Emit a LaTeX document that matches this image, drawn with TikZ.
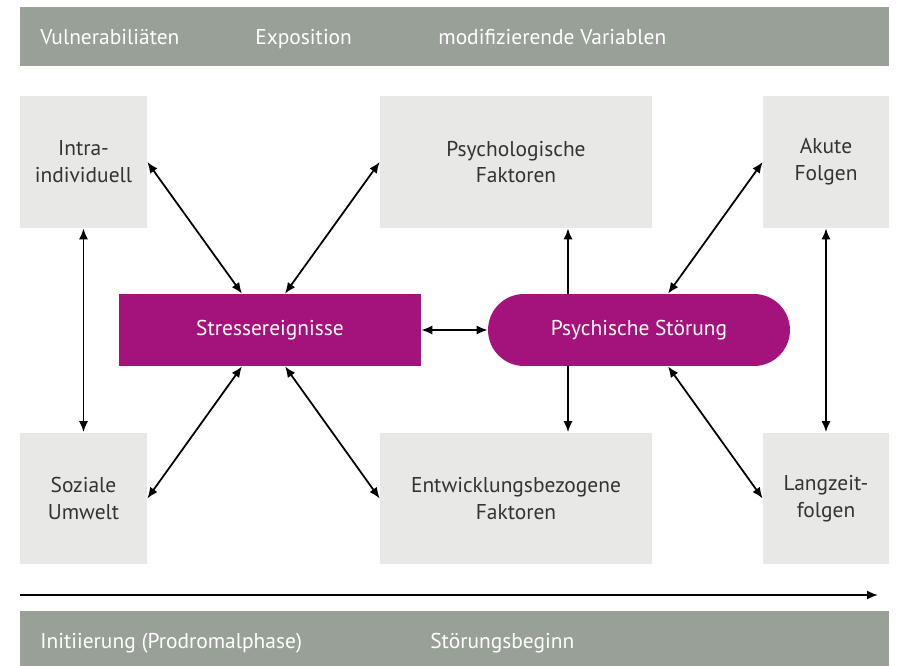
\documentclass[tikz,border=0pt]{standalone}
\usepackage{fontspec}
\setmainfont{PT Sans}
\usepackage{xcolor}
\usetikzlibrary{arrows.meta}

\definecolor{bargray}{HTML}{98A097}
\definecolor{boxgray}{HTML}{E8E9E6}
\definecolor{stressviolet}{HTML}{A4127C}
\definecolor{textgray}{HTML}{333333}

\begin{document}
\begin{tikzpicture}[x=0.02cm, y=-0.02cm,
    every node/.style={font=\fontsize{12.2}{15.3}\selectfont},
    bar/.style={fill=bargray, inner sep=0pt, minimum width=17.38cm},
    bartext/.style={text=white, anchor=base west, inner sep=0pt},
    factor/.style={fill=boxgray, text=textgray, align=center, inner sep=0pt, minimum height=2.64cm},
    event/.style={fill=stressviolet, text=white, inner sep=0pt, minimum width=6.04cm, minimum height=1.44cm},
    link/.style={{Latex[length=2.2mm,width=1.8mm]}-{Latex[length=2.2mm,width=1.8mm]}, line width=1pt},
    onelink/.style={-{Latex[length=2.2mm,width=1.8mm]}, line width=1pt}]

        \useasboundingbox (0,0) rectangle (897,666);

        % Top bar
        \node[bar, minimum height=1.2cm] (top) at (454.5,36.5) {};
        \node[bartext] (vuln) at (40,45) {Vulnerabiliäten};
        \node[bartext] (expo) at (255,45) {Exposition};
        \node[bartext] (modi) at (438,45) {modifizierende Variablen};

        % Factor boxes
        \node[factor, minimum width=2.54cm] (intra) at (83.5,162) {Intra-\\individuell};
        \node[factor, minimum width=5.44cm] (psych) at (516,162) {Psychologische\\Faktoren};
        \node[factor, minimum width=2.52cm] (akut) at (826,162) {Akute\\Folgen};
        \node[factor, minimum width=2.54cm] (sozial) at (83.5,498.5) {Soziale\\Umwelt};
        \node[factor, minimum width=5.44cm] (entw) at (516,498.5) {Entwicklungsbezogene\\Faktoren};
        \node[factor, minimum width=2.52cm] (lang) at (826,498.5) {Langzeit-\\folgen};

        % Stress events and disorder
        \node[event] (stress) at (270,330) {Stressereignisse};
        \node[event, rounded corners=0.72cm] (stoer) at (639,330) {Psychische Störung};

        % Arrows round the stress events
        \draw[link] (intra.east) -- ([xshift=-0.56cm]stress.north);
        \draw[link] (psych.west) -- ([xshift=0.3cm]stress.north);
        \draw[link] ([xshift=-0.56cm]stress.south) -- (sozial.east);
        \draw[link] ([xshift=0.3cm]stress.south) -- (entw.west);
        \draw[link] (stress.east) -- (stoer.west);

        % Arrows round the disorder
        \coordinate (up) at ([xshift=-1.42cm]stoer.north);
        \coordinate (down) at ([xshift=-1.42cm]stoer.south);
        \draw[onelink] (up) -- (up |- psych.south);
        \draw[onelink] (down) -- (down |- entw.north);
        \draw[link] ([xshift=0.58cm]stoer.north) -- (akut.west);
        \draw[link] ([xshift=0.58cm]stoer.south) -- (lang.west);

        % Vertical links
        \draw[link] (intra.south) -- (sozial.north);
        \draw[link] (akut.south) -- (lang.north);

        % Time line
        \coordinate (t0) at (20,595);
        \coordinate (t1) at (878,595);
        \draw[onelink] (t0) -- (t1);

        % Bottom bar
        \node[bar, minimum height=1.1cm] (bottom) at (454.5,638.5) {};
        \node[bartext] (init) at (40,648) {Initiierung (Prodromalphase)};
        \node[bartext] (beginn) at (430,648) {Störungsbeginn};

      \end{tikzpicture}
\end{document}
